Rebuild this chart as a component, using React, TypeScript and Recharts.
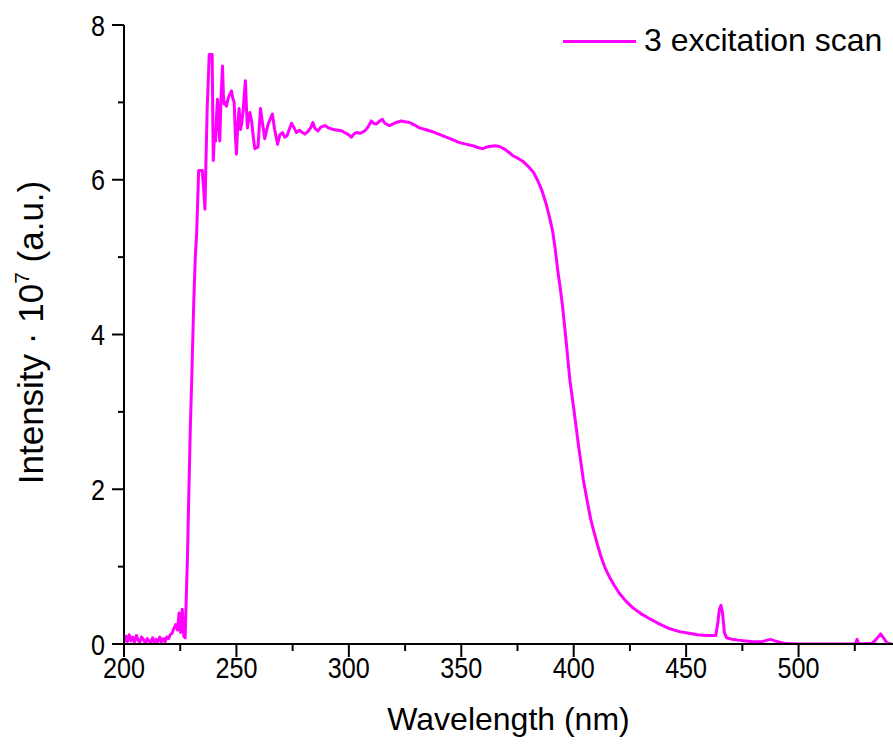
import { LineChart, Line, XAxis, YAxis, Legend } from 'recharts'

const wavelengths = [
  200, 200.8, 201.5, 202.3, 203, 203.8, 204.6, 205.5, 206.3, 207, 207.8, 208.6, 209.5, 210.3, 211, 211.8,
  212.7, 213.5, 214.3, 215, 215.9, 216.7, 217.5, 218.3, 219, 219.8, 220.6, 221.4, 222.2, 223, 223.8, 224.5,
  225.2, 225.9, 226.6, 227.2, 227.6, 228.2, 228.8, 229.5, 230.2, 231, 231.7, 232.3, 232.8, 233.2, 234.8, 235.5,
  236, 236.5, 237, 237.5, 237.9, 239.2, 239.7, 240.2, 240.7, 241.2, 241.6, 242.1, 242.6, 243.2, 243.8, 244.2,
  244.5, 245, 245.6, 246.3, 247, 247.8, 248.4, 249, 249.5, 250, 250.6, 251.2, 251.8, 252.3, 253, 253.5,
  254, 254.5, 254.9, 255.5, 256, 256.8, 257.5, 258.2, 259, 259.6, 260.2, 260.7, 261.5, 262.6, 263.3, 264.1,
  265, 266, 267, 268.3, 269.3, 270.5, 271.5, 272.5, 273.5, 274.5, 275.5, 276.7, 278, 280.4, 282, 283.2,
  284, 285, 286.3, 287.5, 289.3, 291, 293, 295.2, 297, 298.1, 300, 301.1, 302.2, 303.3, 305, 307,
  308.5, 310, 311, 312.2, 313.7, 314.9, 316, 317.4, 318.1, 319.5, 321.1, 323.3, 325, 327, 329, 331.4,
  334, 337.3, 340, 343.3, 346, 349.2, 352, 355.1, 357, 359.5, 361, 362.5, 365, 367, 369, 371.4,
  373, 375, 377.3, 378.8, 380.5, 382, 384, 386, 387.7, 389.2, 390.6, 391.8, 392.9, 394, 395.1, 396.6,
  398.3, 400.3, 402.2, 404.3, 406, 407.5, 409, 410.6, 412, 414, 416, 418, 420.2, 423, 426.2, 430,
  433.6, 438, 442.5, 447, 451.3, 455, 459, 463.2, 464.2, 464.8, 465.5, 466.2, 467, 468, 470.6, 473,
  476.5, 480, 483.9, 486, 487.6, 489.5, 491.3, 494.2, 500, 510, 520, 525.3, 526, 526.7, 532.8, 534.5,
  536.5, 538, 539.4, 541.5,
]

// intensity in units of 10^7 a.u.
const intensities = [
  0.02, 0.1, 0.03, 0.12, 0.04, 0.09, 0.02, 0.11, 0.05, 0.02, 0.09, 0.06, 0.01, 0.07, 0.04, 0.02,
  0.08, 0.01, 0.06, 0.03, 0.09, 0.02, 0.07, 0.03, 0.09, 0.07, 0.12, 0.14, 0.2, 0.25, 0.18, 0.4,
  0.15, 0.45, 0.1, 0.08, 0.5, 1.1, 1.9, 2.8, 3.5, 4.4, 5.0, 5.3, 5.75, 6.12, 6.12, 5.85,
  5.62, 6.3, 6.93, 7.3, 7.62, 7.62, 6.25, 6.55, 6.5, 6.85, 7.04, 6.7, 6.5, 7.1, 7.47, 7.1,
  6.98, 7.0, 6.95, 7.05, 7.1, 7.15, 7.05, 7.0, 6.6, 6.33, 6.7, 6.92, 6.65, 6.72, 6.9, 7.1,
  7.28, 6.9, 6.67, 6.8, 6.87, 6.75, 6.55, 6.4, 6.42, 6.42, 6.7, 6.92, 6.75, 6.53, 6.62, 6.72,
  6.78, 6.85, 6.65, 6.46, 6.58, 6.61, 6.55, 6.57, 6.65, 6.73, 6.68, 6.61, 6.64, 6.59, 6.63, 6.68,
  6.74, 6.66, 6.63, 6.68, 6.7, 6.67, 6.65, 6.64, 6.63, 6.61, 6.58, 6.55, 6.59, 6.61, 6.6, 6.63,
  6.68, 6.76, 6.73, 6.72, 6.76, 6.78, 6.73, 6.71, 6.7, 6.72, 6.74, 6.76, 6.75, 6.74, 6.71, 6.67,
  6.65, 6.62, 6.59, 6.55, 6.52, 6.48, 6.46, 6.44, 6.42, 6.4, 6.42, 6.43, 6.44, 6.43, 6.4, 6.35,
  6.31, 6.28, 6.24, 6.2, 6.15, 6.1, 5.99, 5.85, 5.69, 5.52, 5.34, 5.1, 4.83, 4.6, 4.35, 3.92,
  3.41, 2.98, 2.55, 2.12, 1.85, 1.62, 1.45, 1.28, 1.14, 0.98, 0.86, 0.76, 0.66, 0.56, 0.47, 0.39,
  0.33, 0.26, 0.2, 0.16, 0.14, 0.12, 0.11, 0.11, 0.3, 0.45, 0.5, 0.4, 0.15, 0.08, 0.06, 0.05,
  0.04, 0.03, 0.03, 0.05, 0.06, 0.04, 0.025, 0.005, 0, 0, 0, 0, 0.06, 0, 0.01, 0.06,
  0.13, 0.07, 0.01, 0,
]

const xTicks = [200, 225, 250, 275, 300, 325, 350, 375, 400, 425, 450, 475, 500, 525]
const xMajor = [200, 250, 300, 350, 400, 450, 500]
const yTicks = [0, 1, 2, 3, 4, 5, 6, 7, 8]
const yMajor = [0, 2, 4, 6, 8]
const seriesName = '3 excitation scan'

const data = wavelengths.map((wl, i) => ({ wl, v: intensities[i] }))

const FONT = '"Liberation Sans", Arial, sans-serif'

function XTick({ x, y, payload }: any) {
  const major = xMajor.includes(payload.value)
  const s = String(payload.value)
  return (
    <g>
      <line x1={x} x2={x} y1={y} y2={y + (major ? 13 : 7)} stroke="#000" strokeWidth={2} />
      {major && (
        <text x={x} y={y + 34} textAnchor="middle" fontSize={30} fontFamily={FONT} fill="#000"
          textLength={s.length * 14} lengthAdjust="spacingAndGlyphs">
          {s}
        </text>
      )}
    </g>
  )
}

function YTick({ x, y, payload }: any) {
  const major = yMajor.includes(payload.value)
  const s = String(payload.value)
  return (
    <g>
      <line x1={x} x2={x - (major ? 12 : 6)} y1={y} y2={y} stroke="#000" strokeWidth={2} />
      {major && (
        <text x={x - 19} y={y + 10.5} textAnchor="end" fontSize={30} fontFamily={FONT} fill="#000"
          textLength={s.length * 14} lengthAdjust="spacingAndGlyphs">
          {s}
        </text>
      )}
    </g>
  )
}

function XTitle({ viewBox }: any) {
  const { x, y, width } = viewBox
  return (
    <text x={x + width / 2} y={y + 86} textAnchor="middle" fontSize={32} fontFamily={FONT} fill="#000">
      Wavelength (nm)
    </text>
  )
}

function YTitle({ viewBox }: any) {
  const { y, height } = viewBox
  const cx = 43
  const cy = y + height / 2 - 2
  return (
    <text x={cx} y={cy} transform={`rotate(-90 ${cx} ${cy})`} textAnchor="middle" fontSize={35}
      fontFamily={FONT} fill="#000">
      Intensity · 10<tspan dy={-14} fontSize={21}>7</tspan>
      <tspan dy={14}> (a.u.)</tspan>
    </text>
  )
}

function LegendBox() {
  return (
    <svg width={338} height={60}>
      <line x1={8} x2={81} y1={41.5} y2={41.5} stroke="#FF00FF" strokeWidth={3} />
      <text x={89} y={51} fontSize={32} fontFamily={FONT} fill="#000">{seriesName}</text>
    </svg>
  )
}

export default function App() {
  return (
    <div style={{ position: 'absolute', left: 0, top: 0 }}>
      <LineChart width={893} height={745} data={data} margin={{ top: 25, right: 0, left: 0, bottom: 0 }}>
        <XAxis
          dataKey="wl"
          type="number"
          domain={[200, 542]}
          allowDataOverflow
          ticks={xTicks}
          interval={0}
          tickSize={0}
          tickMargin={0}
          tickLine={false}
          tick={<XTick />}
          axisLine={{ stroke: '#000', strokeWidth: 2 }}
          height={101}
          label={<XTitle />}
        />
        <YAxis
          type="number"
          domain={[0, 8]}
          allowDataOverflow
          ticks={yTicks}
          interval={0}
          tickSize={0}
          tickMargin={0}
          tickLine={false}
          tick={<YTick />}
          axisLine={{ stroke: '#000', strokeWidth: 2 }}
          width={124}
          label={<YTitle />}
        />
        <Legend
          layout="vertical"
          align="center"
          verticalAlign="middle"
          wrapperStyle={{ left: 555, top: 0, width: 338 }}
          content={() => <LegendBox />}
        />
        <Line
          type="linear"
          dataKey="v"
          name={seriesName}
          stroke="#FF00FF"
          strokeWidth={3}
          strokeLinejoin="round"
          dot={false}
          isAnimationActive={false}
        />
      </LineChart>
    </div>
  )
}
